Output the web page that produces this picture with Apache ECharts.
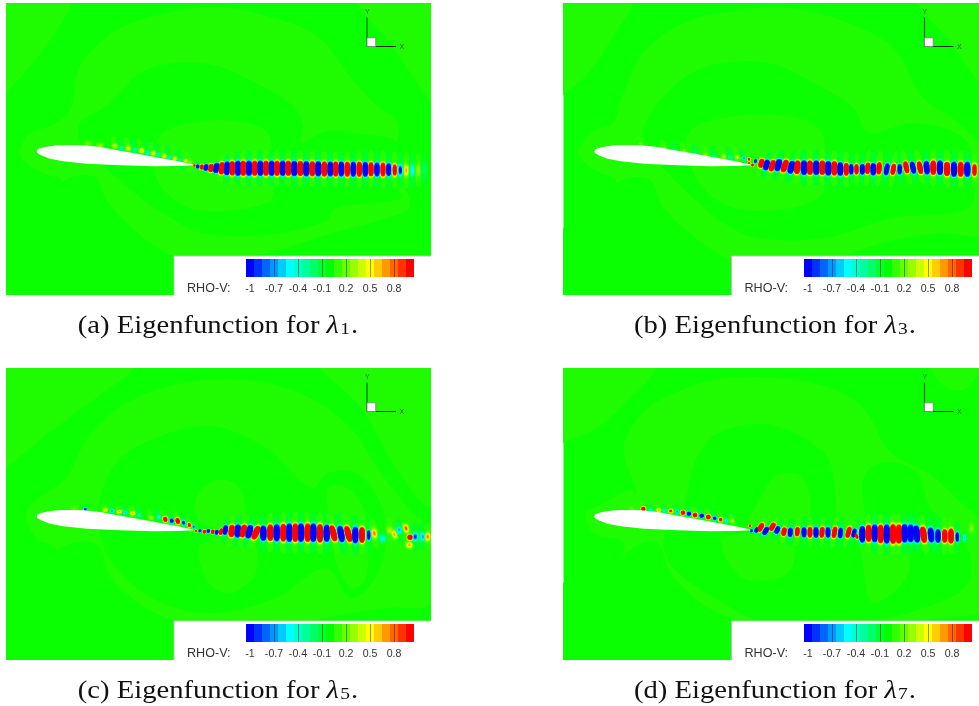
<!DOCTYPE html>
<html><head><meta charset="utf-8">
<style>html,body{margin:0;padding:0;background:#fff}#c{width:979px;height:706px}</style>
<script src="https://cdn.jsdelivr.net/npm/echarts@6/dist/echarts.min.js"></script>
</head><body><div id="c"></div>
<script>
// contour levels of the colour bar
const legendLevels = ['-1','-0.9','-0.8','-0.7','-0.6','-0.5','-0.4','-0.3','-0.2','-0.1','0','0.1','0.2','0.3','0.4','0.5','0.6','0.7','0.8','0.9','1'];
const levelColors = ['#0000ff','#0033ff','#0066ff','#0099ff','#00ccff','#00ffff','#00ffcc','#00ff99','#00ff66','#00ff33','#00ff00','#33ff00','#66ff00','#99ff00','#ccff00','#ffff00','#ffcc00','#ff9900','#ff6600','#ff3300','#ff0000'];
const floodTones = ['#0aff00','#1ffb00'];
const haloTones = ['#00ff22','#26ff00'];
const captions = ['a','b','c','d'];
const subscripts = ['1','3','5','7'];
const airfoil = [[30.7,148.4],[31.6,146.6],[34,145.3],[40.7,143.7],[50.7,142.3],[64,142],[77.3,142.3],[94,144],[114,147.7],[134,151.3],[154,155],[170.7,158],[185.7,161.3],[188,162.2],[170.7,163],[147.3,163.3],[114,162.3],[80.7,160.7],[57.3,158.3],[44,155.7],[35.7,152.6],[31.6,150.2]];
const legendBox = [168,253,430,300];
const triadOrigin = [361,43.5];
const triadLengths = [29,29,8.7];

// low level flood regions: [tone, points]; tone 1 = band 0.1, tone 0 = band 0
const regionsA = [
 [1,[[-20,-20],[66,-20],[66,0],[51,27],[27,60],[0,90],[-20,110]]],
 [1,[[351,-20],[351,0],[382,38],[425,100],[445,130],[445,-20]]],
 [1,[[14,147],[24,130],[44,123],[64,107],[74,63],[111,27],[161,10],[211,4],[261,13],[311,33],[347,77],[371,103],[392,120],[389,163],[404,203],[374,217],[327,230],[261,250],[201,260],[137,250],[81,240],[54,203],[56,177],[37,170],[17,157]]],
 [0,[[74,120],[94,107],[111,93],[134,70],[167,60],[207,62],[244,77],[287,103],[297,123],[295,140],[320,128],[345,130],[392,140],[385,175],[395,195],[330,205],[320,218],[260,232],[195,230],[165,215],[135,195],[100,165],[75,140]]],
 [1,[[154,133],[184,120],[230,118],[262,130],[265,170],[268,185],[262,200],[195,208],[160,190],[148,165]]],
 [0,[[54,203],[57,179],[89,174],[102,200],[134,232],[167,253],[201,260],[137,270],[94,260],[71,243]]],
 [0,[[0,220],[19,253],[34,292],[-20,312],[-20,210]]],
 [0,[[405,250],[425,238],[445,238],[445,270]]]
];
const regionsB = [
 [1,[[-20,-20],[70,-20],[70,0],[52,30],[25,70],[0,92],[-20,110]]],
 [1,[[353,-20],[353,0],[384,36],[415,80],[445,120],[445,-20]]],
 [1,[[16,146],[30,128],[50,120],[58,95],[80,50],[120,20],[170,8],[225,5],[280,18],[330,45],[360,95],[395,120],[420,150],[420,230],[380,230],[327,238],[261,258],[201,268],[130,255],[80,240],[50,205],[52,177],[37,170],[18,157]]],
 [0,[[80,125],[95,100],[120,75],[150,62],[205,60],[250,80],[290,105],[305,130],[350,120],[400,135],[410,170],[405,205],[330,215],[260,235],[195,235],[160,220],[130,195],[100,165],[82,140]]],
 [1,[[125,130],[160,115],[215,112],[255,125],[262,160],[255,195],[190,208],[150,195],[128,165]]],
 [0,[[50,205],[54,180],[85,176],[100,205],[132,235],[167,258],[201,268],[137,278],[90,262],[68,243]]],
 [0,[[0,225],[20,255],[35,292],[-20,312],[-20,215]]]
];
const regionsC = [
 [1,[[-20,-20],[132,-20],[128,0],[90,30],[34,72],[0,100],[-20,115]]],
 [1,[[300,-20],[420,-20],[445,30],[445,120],[425,140],[390,100],[355,40]]],
 [1,[[20,145],[40,125],[60,110],[85,65],[130,30],[200,12],[280,20],[340,55],[375,105],[402,140],[425,165],[425,235],[380,240],[320,250],[250,262],[190,266],[120,255],[75,235],[52,200],[50,180],[30,170]]],
 [0,[[92,140],[110,95],[150,70],[205,58],[260,80],[305,120],[322,105],[350,105],[372,130],[380,165],[372,205],[345,230],[320,200],[270,230],[205,245],[150,232],[110,200],[95,170]]],
 [1,[[190,130],[210,112],[232,118],[240,145],[240,160],[195,155]]],
 [1,[[195,176],[245,172],[250,205],[225,225],[205,218],[195,198]]],
 [1,[[322,120],[345,122],[360,150],[360,210],[345,220],[330,195],[325,160]]],
 [0,[[52,200],[55,180],[90,176],[105,210],[140,240],[190,266],[130,275],[85,255]]],
 [0,[[0,215],[22,250],[40,292],[-20,312],[-20,205]]]
];
const regionsD = [
 [1,[[-20,-20],[93,-20],[93,0],[57,40],[33,60],[0,75],[-20,90]]],
 [1,[[367,-20],[367,0],[383,20],[400,22],[415,7],[440,-20]]],
 [1,[[22,145],[35,138],[66,122],[73,125],[60,80],[77,47],[100,30],[150,12],[213,10],[267,20],[300,40],[327,84],[367,107],[397,134],[420,160],[420,240],[375,250],[320,262],[250,265],[200,268],[130,250],[85,235],[57,205],[60,175],[30,165]]],
 [0,[[120,137],[133,90],[157,64],[207,57],[260,84],[270,110],[277,157],[300,157],[300,110],[320,94],[353,104],[367,140],[400,170],[405,215],[360,240],[300,255],[250,262],[200,255],[160,235],[110,200],[100,170]]],
 [1,[[197,130],[213,107],[240,110],[243,155],[187,155]]],
 [1,[[160,170],[227,170],[225,205],[185,212],[165,195]]],
 [1,[[300,160],[335,160],[345,205],[310,235],[300,200]]],
 [0,[[57,205],[63,185],[93,174],[107,205],[140,237],[200,268],[130,278],[85,255]]],
 [0,[[0,215],[20,237],[43,292],[-20,312],[-20,205]]]
];

// wave packets: x, y, amplitude, half width, half height, tilt (deg), faint halo half height
const blobsA = [
[188.3,162.5,3,1.5,1.8,0,0],[191.7,163.5,-4,2,3,10,0],[195.7,164,4,2.4,4,15,0],[200,164.5,-5,2.8,5,15,0],[205,165,6,3.2,6.2,12,0],[210.3,165,-7,3.4,7.5,10,0],[215.7,165.3,8,3.5,9,6,14],[221,165.3,-8,3.6,10,3,15],[226.3,165.3,8,3.6,10.5,0,16],[232,165.3,-8,3.7,11,0,17],
[237.3,165.3,8,3.7,11,0,18],[243,165.3,-8,3.7,11,0,18],[248.7,165.3,8,3.7,11,0,18],[254.3,165.3,-8,3.7,11,0,18],[260,165.3,8,3.8,11,0,18],[265.7,165.3,-8,3.7,11,0,18],[271,165.3,8,3.7,11,0,18],[276.7,165.3,-8,3.7,11,0,18],[282.3,165.3,8,3.8,11,0,18],[288.3,165.5,-8,3.8,11,0,18],
[294.3,165.5,8,3.8,11,0,18],[300.3,165.7,-8,3.8,11,0,18],[306.3,165.7,8,3.7,11,0,18],[312.3,165.8,-8,3.7,11,0,18],[318.3,166,8,3.6,11,0,18],[324.3,166,-7,3.5,11,0,18],[329.7,166,8,3.4,11,0,18],[335.3,166,-7,3.4,11,0,18],[341.3,166.2,8,3.4,11,0,18],[347.3,166.2,-7,3.3,11,0,18],
[353.3,166.2,8,3.3,11,0,19],[359.3,166.3,-7,3.3,11,0,19],[365,166.3,7,3.2,10.5,0,19],[371,166.5,-6,3.2,10.5,0,19],[377,166.5,6,3.1,10.5,0,19],[382.7,166.6,-5,3,10,0,19],[388.7,167,3,2.8,9.5,0,19],[394.3,167.2,-1.3,2.8,9.5,0,18],[400.3,167.4,0.7,3,10,0,18],[406.3,167.4,-0.55,3,10,0,18],[412.3,167.4,0.3,3,10,0,17],[418,167.4,-0.2,3,9,0,15]
];
const surfaceA = [
[82,141,0.2,2.5,3,-10,0],[94,142.5,0.3,2.5,3,-10,0],[109,143,0.45,2.2,2.8,-15,10],[115.7,145.3,-0.35,2.2,2.8,-15,10],[122.3,145.3,0.55,2.2,3,-15,11],[129,147,-0.45,2.2,2.8,-15,11],[135.7,147.7,0.65,2.2,3,-15,12],[141.7,149.7,-0.45,2.2,2.8,-15,12],[147.3,150.3,0.55,2.2,2.8,-15,12],[152.3,151.7,-0.4,2.2,2.6,-15,12],[158.3,153,0.55,2.2,2.6,-15,12],[163.3,154.3,-0.4,2,2.4,-15,12],[169,155.7,0.55,2,2.4,-15,12],[174,157,-0.3,2,2.2,-15,12],[179.7,157.7,0.5,2,2.2,-15,12],[184,159.3,0.3,1.8,2,-15,10]
];
const blobsB = [
[185.5,160,2,1.4,1.8,0,0],[189,162,3,1.7,2.2,20,0],[192,158,-3,1.9,3,20,0],[197.8,160.3,6,3.2,7,15,13],[203,162,-7,3.3,8,15,14],[208.8,162.7,8,3.5,8.5,18,15],[214.8,162,-8,3.6,9,15,15],[221.2,163,8,3.7,9.5,20,16],[227.8,164.3,-8,3.7,9.5,15,17],[233.8,164.3,8,3.7,10,5,17],
[240.5,164.7,-8,3.8,10.5,0,18],[246.5,164.7,8,3.8,10.5,0,18],[252.8,164.7,-8,3.8,10.5,0,18],[258.8,164.7,8,3.8,10.5,0,18],[264.8,165.3,-8,3.8,10.5,0,18],[270.8,165.3,8,3.7,10.5,0,18],[276.8,166,-7,3.6,10,0,18],[282.8,166.3,7,3.1,9.5,0,18],[287.8,166.3,-5,2.6,8,0,17],[293,166.3,5,2.6,8,0,17],
[298.8,166.3,-6,3,8,0,17],[304.2,165.3,7,3,8.5,5,18],[309.8,166.3,-7,3.4,9,0,18],[315.5,165.3,7,3.2,9,5,18],[323.2,166.3,-6,3,9,10,18],[329.8,166.3,6,3,8.5,10,18],[336.2,166.3,-5,2.6,8,0,18],[342.8,164.3,7,3,9,-12,18],[349.5,164.7,-7,3,9,-12,18],[356.5,164.7,7,3.2,9.5,-12,18],
[363.2,164.7,-7,3.4,10,-5,19],[369.8,164.7,8,3.6,10.5,0,19],[376.5,164.7,-8,3.6,10.5,0,19],[383.5,166,8,3.7,10.5,0,19],[390.5,166.3,-8,3.6,11,0,19],[397.2,166.3,8,3.6,11,0,19],[403.8,166.3,-8,3.6,11,0,19],[411,167,3,3,10,0,17]
];
const surfaceB = [
[77,141,0.2,1.5,2,-15,8],[100.5,145.3,0.22,2,2.5,-15,9],[110.5,147,-0.22,2,2.5,-15,9],[120.5,148.7,0.28,2,2.5,-15,10],[132,150.3,-0.28,2,2.5,-15,10],[142,152,0.35,2,2.5,-15,10],[150.5,153.7,-0.35,2,2.5,-15,11],[160.5,153.7,0.4,2,2.5,-15,11],[167,154.3,-0.4,2,2.5,-15,11],[173.8,154.3,0.5,1.8,2.4,-15,11],[180.5,155.3,-0.8,1.8,2.4,-15,10],[185.5,156.3,1.6,1.5,2,-15,8]
];
const blobsC = [
[190,163,3,1.5,1.8,10,0],[194,162.7,-3,1.8,2.5,15,0],[198.3,163.7,4,1.9,3,15,0],[202.3,163,-4,1.9,3,15,0],[206.7,163.7,5,2,3.3,15,0],[210.7,164.3,-5,2.1,3.6,15,0],[215,163.7,6,2.3,5,15,0],[219.3,162,-7,2.8,7,10,13],[225.7,163,8,3.6,9,5,15],[231.7,163,-8,3.6,9.5,5,16],
[237.3,163,8,3.7,9.5,15,16],[243.3,163.7,-8,3.7,10,15,17],[250,164.7,8,3.8,10.5,25,18],[257.3,165.3,-8,3.8,11,0,19],[264.3,164.7,8,3.8,12,0,20],[270.7,164.7,-8,3.8,12.5,0,20],[277.3,164.7,8,3.8,13,0,21],[283.3,164.7,-8,3.8,13.5,0,21],[289.3,164.7,8,3.9,13.5,0,21],[295,164.7,-8,3.9,13.5,0,21],
[301.7,164.7,8,3.9,13.5,0,21],[307.3,164.7,-8,3.9,13.5,0,21],[314,165.3,8,3.8,13.5,0,21],[320.7,165.3,-8,3.7,12.5,0,21],[327.3,165.3,8,3.7,12,-15,21],[335,166,-8,3.7,12,-10,21],[342.3,166,8,3.6,12,-15,20],[349.3,167,-8,3.6,12,0,20],[356,167,8,3.5,11.5,0,19],[362.7,167,-3,2.2,8,0,17],
[368.3,165.3,0.8,3.4,8,-10,15],[376.7,170.3,-0.5,4,6,0,0],[383.3,162,0.45,3,5,0,12],[388.3,166.3,0.7,3.2,7,-20,0],[393.3,162,-0.7,3.4,6,0,12],[400,160.3,0.9,3.2,7,-15,0],[404,169.3,3,3.4,4.6,0,0],[403.3,177,0.7,4,5,0,0],[409.3,168.7,-1,3.4,7,0,14],[416.7,168.7,-0.7,3.4,7,0,14],[421.7,168.7,0.8,3.2,7,0,14]
];
const surfaceC = [
[68.3,140.3,0.2,2,2.5,-15,0],[79.3,141.3,-1.5,1.6,2.2,-15,6],[99.3,142,0.6,2.2,2.2,-15,7],[106,143,-0.8,2,2,-15,7],[113.3,143.7,0.7,2.4,2,-15,8],[119.3,144.7,-0.7,2,2,-15,8],[126.7,145.3,0.7,2.4,2.4,-15,8],[133.3,147,-0.35,2,2.4,-15,9],[145,149.7,0.35,2,2.5,-15,9],[152.7,148.7,-0.5,2,3,-15,9],[159.3,151.3,2.5,2.1,3.4,-15,10],[165.7,152.7,-2,2,3,-15,10],[171.7,153,3,2.1,3.8,-15,10],[177.7,154.7,-1.4,1.8,3,-15,9],[183.3,157,2,1.6,2.8,-15,8],[187.7,158.7,-1,1.4,2.2,-15,0]
];
const blobsD = [
[186.5,157.7,3,1.5,2,0,0],[187.8,162.7,-3,1.8,2.6,10,0],[193,162,-6,2.2,4,25,0],[197.2,159.3,7,3,7,30,11],[202.2,163,-7,2.8,6.5,30,11],[208.8,158.7,7,3,6.5,30,11],[213.8,162,-6,2.8,6,25,11],[220.5,163.7,6,3,6.5,10,13],[226.8,164.3,-6,2.9,7,5,14],[233.8,163.7,6,2.8,7,5,14],
[240.5,164.3,-7,2.8,7.5,0,15],[246.5,164.3,7,2.9,8,0,15],[252.5,164.3,-7,2.9,8,0,15],[258.5,164.3,7,2.9,8,5,15],[264.5,164.3,-6,2.8,8,0,15],[271,164.3,7,2.9,8.5,10,16],[277,165,-6,2.7,8,5,16],[285,164.3,7,2.9,8.5,15,16],[290.5,165,-5,2.6,7,15,15],[297,164,1,2,5,-30,14],
[293,168,3,2,5,-25,14],[298.2,163,2,2,4,-30,0],[298.2,164.5,-2,2,3,-30,0],[298.8,166.3,-8,3.6,12,0,0],[305.2,165.3,8,3.7,12.5,0,20],[311.2,165.3,-8,3.7,13,0,21],[317.2,166,8,3.8,13.5,0,21],[323.2,166,-8,3.8,14,0,21],[329.5,166,8,3.9,14.5,0,21],
[335.5,166,8,3.9,14,0,21],[341.2,165.3,-8,3.8,13.5,0,21],[347.2,165.3,-8,3.8,13,0,21],[353.2,166,-8,3.8,12.5,-5,21],[360,166.7,8,3.8,12,-8,20],[367.5,167,-7,3.6,11,-5,19],[374.5,168,-7,3.2,10,0,19],[381.2,168,7,3.2,10,0,19],[387.5,168,8,3.4,11,0,19],[393.8,169,-3,2.2,8,0,16],[401,170,-0.6,2.2,6,0,0],[408,160,0.35,2.2,6,0,0]
];
const surfaceD = [
[68,141,0.2,2,2.5,-15,0],[79.8,141,3,2,2.8,-15,7],[87,142,-0.4,2,2.2,-15,7],[95.2,142,0.7,2.2,2.4,-15,7],[101.2,143,-0.5,2,2.2,-15,7],[107.2,143,1.2,2.2,2.4,-15,8],[113.8,143.7,-0.8,2.1,2.2,-15,8],[119.5,144.7,3,2.2,2.6,-15,8],[125.5,145.7,-3,2.1,2.4,-15,8],[131.5,147,3,2.3,2.8,-15,9],[138.2,147.7,-3,2.1,2.4,-15,9],[144.8,149,3,2.3,2.8,-15,9],[151.2,150.3,-1.6,2,2.4,-15,9],[157.2,151.7,1.6,2,2.6,-15,9],[162.8,152.7,-0.6,1.8,2.4,-15,8],[168.8,153,0.45,1.8,2.4,-15,8]
];

const panels = [
 {left:6,top:3,w:425,h:292,regions:regionsA,wave:blobsA,surf:surfaceA,cap:[218,326]},
 {left:563.5,top:3,w:415.5,h:292,regions:regionsB,wave:blobsB,surf:surfaceB,cap:[775,326]},
 {left:6,top:368,w:425,h:292,regions:regionsC,wave:blobsC,surf:surfaceC,cap:[218,691]},
 {left:563.5,top:368,w:415.5,h:292,regions:regionsD,wave:blobsD,surf:surfaceD,cap:[775,691]}
];
const colorOf = v => levelColors[Math.round(v*10)+10];

function expand(rows,grow){
  const out=[];
  rows.forEach(r=>{
    const [x,y,a,rx0,ry0,t,h]=r;
    if(!a) return;
    const rx=rx0*grow, ry=ry0*grow;
    const A=Math.abs(a), s=Math.sign(a);
    if(h) out.push([x,y,0,rx*0.9,h,t,s>0?1:0,0]);
    for(let k=1;k<=10;k++){
      const L=k/10-0.05;
      if(A<=L) break;
      const f=Math.sqrt(Math.log(A/L)/Math.log(A/0.05));
      out.push([x,y,k,rx*f,ry*f,t,s*k/10,1]);
    }
  });
  return out;
}
// rounded-oblong contour outline around a packet centre
function contour(c,a,b,t){
  const pts=[],n=2.6,N=22,cs=Math.cos(t),sn=Math.sin(t);
  for(let i=0;i<N;i++){
    const th=i/N*2*Math.PI,ct=Math.cos(th),st=Math.sin(th);
    const x=a*Math.sign(ct)*Math.pow(Math.abs(ct),2/n),y=b*Math.sign(st)*Math.pow(Math.abs(st),2/n);
    pts.push([c[0]+x*cs-y*sn,c[1]+x*sn+y*cs]);
  }
  return pts;
}

const grid=[],xAxis=[],yAxis=[],series=[],graphic=[];
panels.forEach((p,i)=>{
  const gi=grid.length;
  grid.push({left:p.left,top:p.top,width:p.w,height:p.h});
  xAxis.push({type:'value',gridIndex:gi,min:0,max:p.w,show:false});
  yAxis.push({type:'value',gridIndex:gi,min:0,max:p.h,inverse:true,show:false});
  const base={type:'custom',coordinateSystem:'cartesian2d',xAxisIndex:gi,yAxisIndex:gi,clip:true,silent:true,animation:false};
  series.push({...base,z:2,data:[[0,0,-1]].concat(p.regions.map((r,j)=>[r[1][0][0],r[1][0][1],j])),
    renderItem(par,api){
      const j=api.value(2);
      if(j<0){const a=api.coord([0,0]),b=api.coord([p.w,p.h]);
        return {type:'rect',shape:{x:a[0],y:a[1],width:b[0]-a[0],height:b[1]-a[1]},style:{fill:floodTones[0]}};}
      const r=p.regions[j];
      return {type:'polygon',shape:{points:r[1].map(q=>api.coord(q)),smooth:0.35},style:{fill:floodTones[r[0]]}};
    }});
  series.push({...base,z:3,data:expand(p.surf,1.35).concat(expand(p.wave,1)).sort((u,v)=>u[2]-v[2]),
    renderItem(par,api){
      const c=api.coord([api.value(0),api.value(1)]);
      const sz=api.size([api.value(3),api.value(4)]);
      const fill=api.value(7)?colorOf(api.value(6)):haloTones[api.value(6)];
      return {type:'polygon',shape:{points:contour(c,Math.abs(sz[0])*1.25,Math.abs(sz[1]),api.value(5)*Math.PI/180)},style:{fill}};
    }});
  series.push({...base,z:4,data:[airfoil[0]],
    renderItem(par,api){return {type:'polygon',shape:{points:airfoil.map(q=>api.coord(q))},style:{fill:'#fff'}};}});
  series.push({...base,z:5,data:[[legendBox[0],legendBox[1]]],
    renderItem(par,api){
      const a=api.coord([legendBox[0],legendBox[1]]),b=api.coord([legendBox[2],legendBox[3]]);
      const o=api.coord(triadOrigin),x=api.coord([triadOrigin[0]+triadLengths[0],triadOrigin[1]]),y=api.coord([triadOrigin[0],triadOrigin[1]-triadLengths[1]]),q=api.coord([triadOrigin[0]+triadLengths[2],triadOrigin[1]-triadLengths[2]]);
      const lab=api.coord([181,286]);
      return {type:'group',children:[
        {type:'rect',shape:{x:a[0],y:a[1],width:b[0]-a[0],height:b[1]-a[1]},style:{fill:'#fff',stroke:'#bdbdbd',lineWidth:1}},
        {type:'text',x:lab[0],y:lab[1],style:{text:'RHO-V:',fill:'#333',font:'12.6px "Liberation Sans"',verticalAlign:'middle'}},
        {type:'line',shape:{x1:y[0],y1:y[1],x2:o[0],y2:o[1]},style:{stroke:'#0a6a1a',lineWidth:1.2}},
        {type:'line',shape:{x1:o[0],y1:o[1],x2:x[0],y2:x[1]},style:{stroke:'#052a05',lineWidth:1}},
        {type:'rect',shape:{x:o[0],y:q[1],width:q[0]-o[0],height:o[1]-q[1]},style:{fill:'#fff',stroke:'#778877',lineWidth:0.8}},
        {type:'text',x:y[0]-2,y:y[1]-9,style:{text:'Y',fill:'#2a6a3a',font:'7px "Liberation Sans"'}},
        {type:'text',x:x[0]+3.5,y:x[1]-3,style:{text:'X',fill:'#2a5a3a',font:'7px "Liberation Sans"'}}
      ]};
    }});
  const bi=grid.length;
  grid.push({left:Math.round(p.left+240),top:p.top+256,width:168,height:18});
  xAxis.push({type:'category',gridIndex:bi,data:legendLevels,z:8,axisLine:{show:false},axisTick:{show:false},
    axisLabel:{interval:2,margin:7,fontSize:10.6,color:'#333',fontFamily:'Liberation Sans',hideOverlap:false}});
  yAxis.push({type:'value',gridIndex:bi,min:0,max:1,show:false});
  series.push({type:'custom',coordinateSystem:'cartesian2d',xAxisIndex:bi,yAxisIndex:bi,silent:true,animation:false,z:6,
    data:legendLevels.map((l,j)=>[j,1]),
    renderItem(par,api){
      const j=api.value(0),t=api.coord([j,1]),b=api.coord([j,0]),w=api.size([1,0])[0];
      const ch=[{type:'rect',shape:{x:t[0]-w/2,y:t[1],width:w,height:b[1]-t[1]},style:{fill:levelColors[j]}}];
      if(j%3===0&&j>0) ch.push({type:'line',shape:{x1:t[0]+0.5,y1:t[1],x2:t[0]+0.5,y2:b[1]},style:{stroke:'rgba(0,0,0,0.4)',lineWidth:1}});
      return {type:'group',children:ch};
    }});
  graphic.push({type:'text',x:p.cap[0],y:p.cap[1],scaleX:1.145,silent:true,
    style:{text:`{t|(${captions[i]}) Eigenfunction for }{l|λ}{s|${subscripts[i]}}{t|.}`,align:'center',verticalAlign:'middle',
      rich:{t:{fontFamily:'Liberation Serif',fontSize:25,fill:'#111'},
        l:{fontFamily:'Liberation Serif',fontStyle:'italic',fontSize:25,fill:'#111'},
        s:{fontFamily:'Liberation Serif',fontSize:17,fill:'#111',verticalAlign:'bottom',padding:[7,1,0,1]}}}});
});
const chart=echarts.init(document.getElementById('c'),null,{renderer:'canvas'});
chart.setOption({animation:false,backgroundColor:'#fff',graphic,grid,xAxis,yAxis,series});
</script></body></html>
